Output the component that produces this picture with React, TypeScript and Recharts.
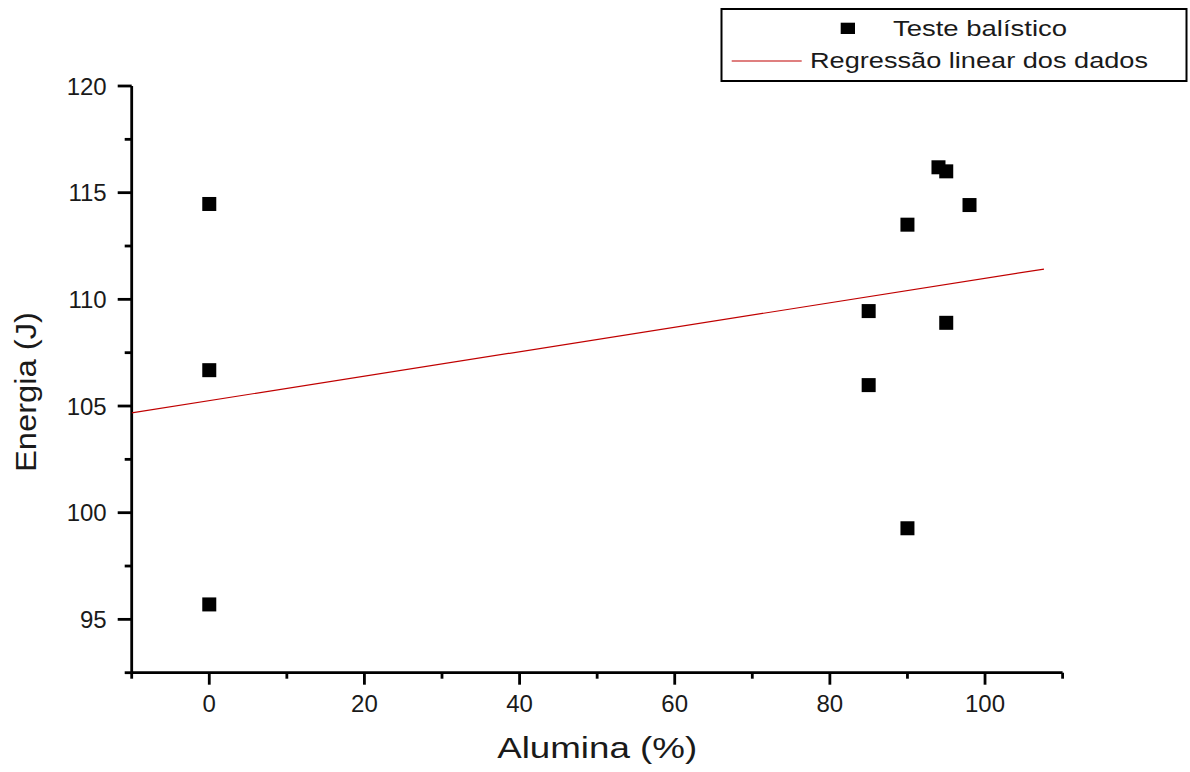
import React from 'react';
import { ScatterChart, Scatter, XAxis, YAxis, Legend } from 'recharts';

// Measured points ("Teste balístico")
const ballisticAlumina = [0, 0, 0, 85, 85, 90, 90, 94, 95, 95, 98];
const ballisticEnergy = [114.47, 106.68, 95.7, 109.45, 105.98, 113.5, 99.27, 116.19, 116.0, 108.9, 114.42];

// Linear regression line endpoints ("Regressão linear dos dados")
const regressionAlumina = [-10, 107.6];
const regressionEnergy = [104.68, 111.42];

// Ticks
const xMajorTicks = [0, 20, 40, 60, 80, 100];
const xMinorTicks = [-10, 10, 30, 50, 70, 90, 110];
const yMajorTicks = [95, 100, 105, 110, 115, 120];
const yMinorTicks = [92.5, 97.5, 102.5, 107.5, 112.5, 117.5];

const ballisticData = ballisticAlumina.map((x, i) => ({ x, y: ballisticEnergy[i] }));
const regressionData = regressionAlumina.map((x, i) => ({ x, y: regressionEnergy[i] }));
const xTicks = [...xMajorTicks, ...xMinorTicks].sort((a, b) => a - b);
const yTicks = [...yMajorTicks, ...yMinorTicks].sort((a, b) => a - b);

const FONT = '"Liberation Sans", Arial, Helvetica, sans-serif';
const TEXT = '#1a1a1a';
const RED = '#c00000';
const AXIS_W = 2.8;

const XTick = (props: any) => {
  const { x, y, payload } = props;
  const major = xMajorTicks.includes(payload.value);
  return (
    <g>
      <line x1={x} x2={x} y1={y} y2={y + (major ? 12 : 6)} stroke="#000" strokeWidth={AXIS_W} />
      {major && (
        <text x={x} y={y + 39} textAnchor="middle" fontFamily={FONT} fontSize={24} fill={TEXT}>
          {payload.value}
        </text>
      )}
    </g>
  );
};

const YTick = (props: any) => {
  const { x, y, payload } = props;
  const major = yMajorTicks.includes(payload.value);
  return (
    <g>
      <line x1={x} x2={x - (major ? 14 : 7)} y1={y} y2={y} stroke="#000" strokeWidth={AXIS_W} />
      {major && (
        <text x={x - 25} y={y + 8.6} textAnchor="end" fontFamily={FONT} fontSize={24} fill={TEXT}>
          {payload.value}
        </text>
      )}
    </g>
  );
};

const XTitle = (props: any) => {
  const vb = props.viewBox || {};
  return (
    <text
      x={vb.x + vb.width / 2}
      y={vb.y + 85.5}
      textAnchor="middle"
      fontFamily={FONT}
      fontSize={30}
      fill={TEXT}
      textLength={200}
      lengthAdjust="spacingAndGlyphs"
    >
      Alumina (%)
    </text>
  );
};

const YTitle = () => (
  <text
    x={36}
    y={392}
    transform="rotate(-90 36 392)"
    textAnchor="middle"
    fontFamily={FONT}
    fontSize={30}
    fill={TEXT}
    textLength={160}
    lengthAdjust="spacingAndGlyphs"
  >
    Energia (J)
  </text>
);

const LegendBox = () => (
  <svg width={468} height={74} style={{ display: 'block' }}>
    <rect x={1.5} y={1} width={465} height={72} fill="#fff" stroke="#000" strokeWidth={2} />
    <rect x={120.7} y={14.7} width={14.3} height={11.3} fill="#000" />
    <text x={173} y={28} fontFamily={FONT} fontSize={22} fill={TEXT} textLength={174} lengthAdjust="spacingAndGlyphs">
      Teste balístico
    </text>
    <line x1={11.7} x2={81.7} y1={53} y2={53} stroke={RED} strokeWidth={1.2} />
    <text x={90} y={60} fontFamily={FONT} fontSize={22} fill={TEXT} textLength={338} lengthAdjust="spacingAndGlyphs">
      Regressão linear dos dados
    </text>
  </svg>
);

export default function App() {
  return (
    <div style={{ position: 'absolute', left: 0, top: 0, width: 1190, height: 772, background: '#fff' }}>
      <ScatterChart
        width={1190}
        height={772}
        margin={{ top: 86, right: 127.4, bottom: 39.3, left: 51.7 }}
      >
        <XAxis
          type="number"
          dataKey="x"
          domain={[-10, 110]}
          ticks={xTicks}
          interval={0}
          height={60}
          tickSize={0}
          tickMargin={0}
          tickLine={false}
          axisLine={{ stroke: '#000', strokeWidth: AXIS_W }}
          tick={<XTick />}
          label={{ content: <XTitle /> }}
          allowDataOverflow
        />
        <YAxis
          type="number"
          dataKey="y"
          domain={[92.5, 120]}
          ticks={yTicks}
          interval={0}
          width={80}
          tickSize={0}
          tickMargin={0}
          tickLine={false}
          axisLine={{ stroke: '#000', strokeWidth: AXIS_W }}
          tick={<YTick />}
          label={{ content: <YTitle /> }}
          allowDataOverflow
        />
        <Legend
          layout="horizontal"
          verticalAlign="middle"
          align="center"
          content={() => <LegendBox />}
          wrapperStyle={{ position: 'absolute', left: 720, top: 8, width: 468, height: 74 }}
        />
        <Scatter
          name="Regressão linear dos dados"
          data={regressionData}
          line={{ stroke: RED, strokeWidth: 1.2 }}
          shape={() => <g />}
          isAnimationActive={false}
        />
        <Scatter
          name="Teste balístico"
          data={ballisticData}
          shape={(p: any) => <rect x={p.cx - 7} y={p.cy - 7} width={14} height={14} fill="#000" />}
          isAnimationActive={false}
        />
      </ScatterChart>
    </div>
  );
}
